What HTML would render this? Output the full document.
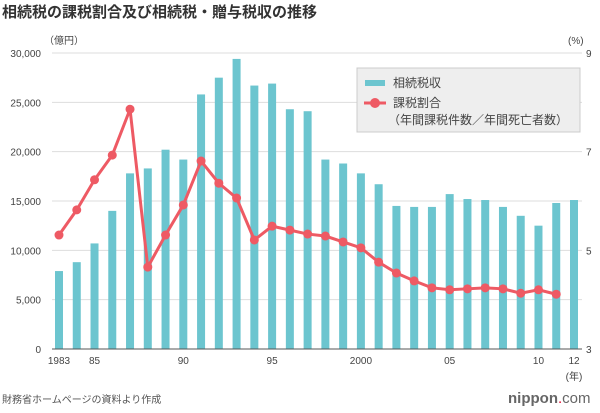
<!DOCTYPE html>
<html><head><meta charset="utf-8">
<style>
body{margin:0;background:#fff;}
svg text{font-family:"Liberation Sans","Noto Sans CJK JP",sans-serif;}
</style></head>
<body>
<svg id="chart" width="600" height="408" viewBox="0 0 600 408" xmlns="http://www.w3.org/2000/svg">
<text x="2" y="17" font-size="15" font-weight="bold" fill="#333">相続税の課税割合及び相続税・贈与税収の推移</text>
<text x="44" y="44" font-size="10" fill="#444">（億円）</text>
<text x="568" y="44" font-size="10" fill="#444">(%)</text>
<g id="grid"></g>
<g id="bars"></g>
<g id="line"></g>
<g id="axes"></g>
<g>
<rect x="357" y="68" width="223" height="64" fill="#eeeeee" stroke="#ccc"/>
<rect x="365" y="80" width="20" height="6" fill="#6cc5cf"/>
<text x="393" y="87" font-size="12" fill="#444">相続税収</text>
<line x1="364" y1="103" x2="386" y2="103" stroke="#ee5a64" stroke-width="3"/>
<circle cx="375" cy="103" r="5" fill="#ee5a64"/>
<text x="393" y="107" font-size="12" fill="#444">課税割合</text>
<text x="388" y="124" font-size="12" fill="#444">（年間課税件数／年間死亡者数）</text>
</g>
<text x="2" y="403" font-size="10" fill="#555">財務省ホームページの資料より作成</text>
<text x="508" y="403" font-size="15" fill="#666"><tspan font-weight="bold">nippon</tspan><tspan fill="#e4002b">.</tspan>com</text>
</svg>
<script>
const years = [1983,1984,1985,1986,1987,1988,1989,1990,1991,1992,1993,1994,1995,1996,1997,1998,1999,2000,2001,2002,2003,2004,2005,2006,2007,2008,2009,2010,2011,2012];
const taxRevenue = [7900,8800,10700,14000,17800,18300,20200,19200,25800,27500,29400,26700,26900,24300,24100,19200,18800,17800,16700,14500,14400,14400,15700,15200,15100,14400,13500,12500,14800,15100];
const taxRate = [5.31,5.82,6.43,6.93,7.86,4.66,5.31,5.92,6.81,6.36,6.06,5.21,5.49,5.41,5.33,5.29,5.17,5.05,4.76,4.54,4.38,4.24,4.20,4.22,4.24,4.22,4.13,4.20,4.11];
const leftTicks = [0,5000,10000,15000,20000,25000,30000];
const leftTickLabels = ["0","5,000","10,000","15,000","20,000","25,000","30,000"];
const rightTicks = [3,5,7,9];
const xLabelYears = [1983,1985,1990,1995,2000,2005,2010,2012];
const xLabels = ["1983","85","90","95","2000","05","10","12"];

const NS="http://www.w3.org/2000/svg";
const x0=59,x1=574,yTop=53,yBot=349;
const xS=y=>x0+(y-1983)*(x1-x0)/(2012-1983);
const yL=v=>yBot-v/30000*(yBot-yTop);
const yR=v=>yBot-(v-3)/6*(yBot-yTop);
function mk(tag,attrs,parent,txt){const e=document.createElementNS(NS,tag);for(const k in attrs)e.setAttribute(k,attrs[k]);if(txt!==undefined)e.textContent=txt;document.getElementById(parent).appendChild(e);return e;}

leftTicks.forEach((t,i)=>{
  if(t>0){const g=mk('line',{x1:52,x2:582,y1:yL(t),y2:yL(t),stroke:'#ddd','stroke-width':1},'grid');
  
  }
  const l=mk('text',{x:41,y:yL(t)+4,'font-size':10,fill:'#444','text-anchor':'end'},'axes',leftTickLabels[i]);
  
  
});
rightTicks.forEach(t=>{
  const l=mk('text',{x:586,y:yR(t)+4,'font-size':10,fill:'#444'},'axes',String(t));
  
  
});
years.forEach((y,i)=>{
  const b=mk('rect',{x:xS(y)-4,y:yL(taxRevenue[i]),width:8,height:yBot-yL(taxRevenue[i]),fill:'#6cc5cf'},'bars');
  
  
});
const ax=mk('line',{x1:52,x2:582,y1:yBot,y2:yBot,stroke:'#555','stroke-width':1},'axes');


xLabelYears.forEach((y,i)=>{
  const l=mk('text',{x:xS(y),y:364,'font-size':10,fill:'#444','text-anchor':'middle'},'axes',xLabels[i]);
  
  
});
const yu=mk('text',{x:xS(2012),y:380,'font-size':10,fill:'#444','text-anchor':'middle'},'axes','(年)');


const pts=taxRate.map((v,i)=>xS(years[i])+','+yR(v)).join(' ');
const pl=mk('polyline',{points:pts,fill:'none',stroke:'#ee5a64','stroke-width':3},'line');


taxRate.forEach((v,i)=>{
  const c=mk('circle',{cx:xS(years[i]),cy:yR(v),r:4.5,fill:'#ee5a64'},'line');
  
  
});
</script>
</body></html>
